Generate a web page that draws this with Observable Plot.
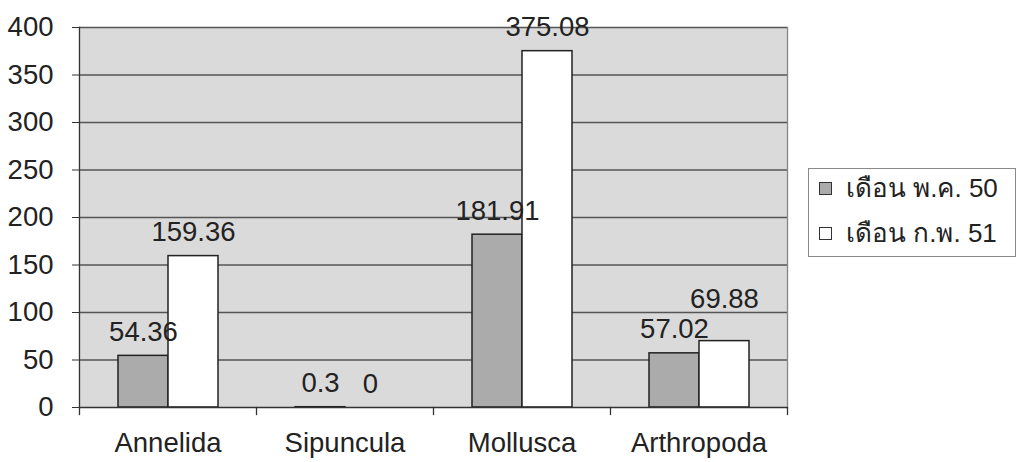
<!DOCTYPE html>
<html>
<head>
<meta charset="utf-8">
<script src="https://cdn.jsdelivr.net/npm/d3@7"></script>
<script src="https://cdn.jsdelivr.net/npm/@observablehq/plot@0.6"></script>
<style>
  body { margin: 0; background: #fff; }
  #wrap { position: relative; width: 1017px; height: 462px; font-family: "Liberation Sans", Arial, sans-serif; }
  #legend { position: absolute; left: 808px; top: 168px; width: 208px; height: 89px; border: 1px solid #8a8a8a; background: #fff; box-sizing: border-box; color: #222; font-size: 26px; }
  .item { position: absolute; left: 10px; height: 30px; line-height: 30px; display: flex; align-items: center; white-space: nowrap; }
  .sw { width: 11px; height: 11px; border: 1px solid #333; margin-right: 14px; }
</style>
</head>
<body>
<div id="wrap"><div id="legend"></div></div>
<script>
const categories = ["Annelida", "Sipuncula", "Mollusca", "Arthropoda"];
const series = ["เดือน พ.ค. 50", "เดือน ก.พ. 51"];
const may50 = [54.36, 0.3, 181.91, 57.02];
const feb51 = [159.36, 0, 375.08, 69.88];
const yTicks = [0, 50, 100, 150, 200, 250, 300, 350, 400];
const colors = ["#ababab", "#ffffff"];

const data = [];
categories.forEach((c, i) => {
  data.push({category: c, series: series[0], value: may50[i]});
  data.push({category: c, series: series[1], value: feb51[i]});
});
// the one label lifted higher to clear its neighbour, as in the reference
const lifted = d => d.category === "Arthropoda" && d.series === series[1];

const font = 27.5;
const chart = Plot.plot({
  width: 1017,
  height: 462,
  marginLeft: 77,
  marginRight: 229,
  marginTop: 27,
  marginBottom: 55,
  style: {fontSize: font + "px", fontFamily: "'Liberation Sans', Arial, sans-serif", color: "#222", background: "transparent"},
  fx: {domain: categories, padding: 0, label: null},
  x: {domain: series, paddingInner: 0, paddingOuter: 0.743, axis: null},
  y: {domain: [0, 400], label: null},
  color: {domain: series, range: colors},
  marks: [
    Plot.frame({fill: "#dadada", stroke: null, insetLeft: -0.6, insetRight: -0.6}),
    Plot.ruleY(yTicks.filter(d => d > 0), {stroke: "#555", strokeWidth: 1.3}),
    Plot.frame({anchor: "left", facetAnchor: "left", stroke: "#333", strokeWidth: 1.3}),
    Plot.frame({anchor: "right", facetAnchor: "right", stroke: "#888", strokeWidth: 1.3}),
    Plot.frame({anchor: "left", insetTop: 380, insetBottom: -7, stroke: "#333", strokeWidth: 1.3}),
    Plot.frame({anchor: "right", facetAnchor: "right", insetTop: 380, insetBottom: -7, stroke: "#333", strokeWidth: 1.3}),
    Plot.barY(data, {fx: "category", x: "series", y: "value", fill: "series", stroke: "#222", strokeWidth: 1.5}),
    Plot.ruleY([0], {stroke: "#333", strokeWidth: 1.3}),
    Plot.text(data.filter(d => !lifted(d)), {fx: "category", x: "series", y: "value", text: d => String(d.value), lineAnchor: "bottom", dy: -15, fill: "#222", fontSize: font}),
    Plot.text(data.filter(lifted), {fx: "category", x: "series", y: "value", text: d => String(d.value), lineAnchor: "bottom", dy: -33, fill: "#222", fontSize: font}),
    Plot.axisY({ticks: yTicks, tickSize: 7, tickPadding: 19, stroke: "#333", fill: "#222", fontSize: font}),
    Plot.axisFx({anchor: "bottom", tickSize: 0, tickPadding: 25, fill: "#222", fontSize: font, label: null})
  ]
});

const wrap = document.getElementById("wrap");
wrap.insertBefore(chart, wrap.firstChild);

const legend = document.getElementById("legend");
series.forEach((s, i) => {
  const it = document.createElement("div");
  it.className = "item";
  it.style.top = (i === 0 ? 4 : 49) + "px";
  const sw = document.createElement("div");
  sw.className = "sw";
  sw.style.background = colors[i];
  const t = document.createElement("span");
  t.textContent = s;
  it.appendChild(sw);
  it.appendChild(t);
  legend.appendChild(it);
});
</script>
</body>
</html>
